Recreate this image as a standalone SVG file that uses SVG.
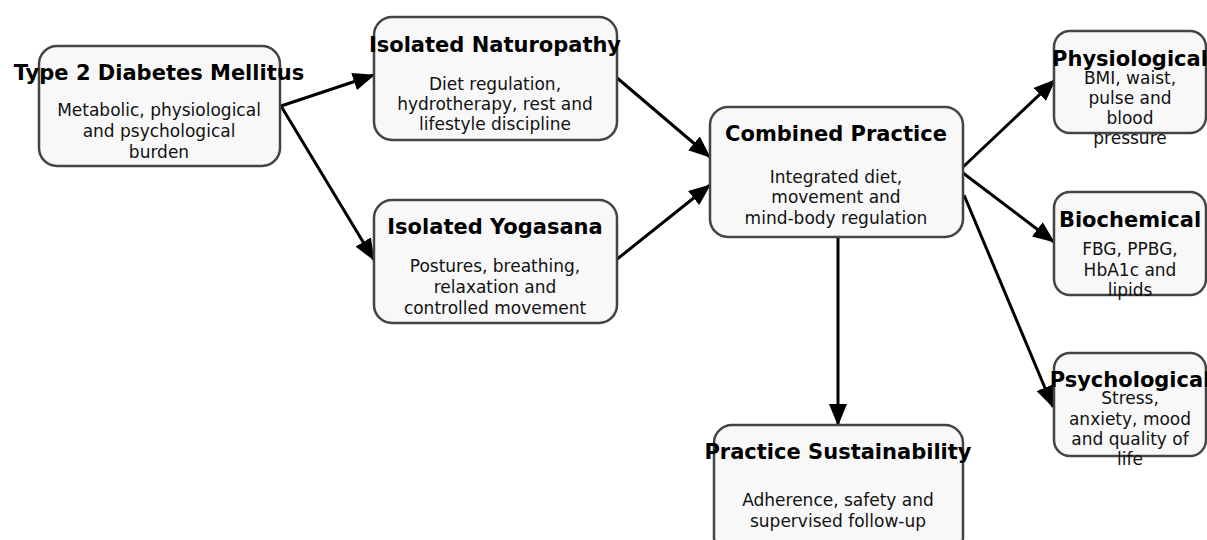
<svg xmlns="http://www.w3.org/2000/svg" width="1207" height="540" viewBox="0 0 1207 540">
<defs>
<marker id="ah" markerUnits="userSpaceOnUse" markerWidth="22" markerHeight="18" viewBox="0 0 22 18" refX="21" refY="9" orient="auto">
<path d="M0,0 L22,9 L0,18 Z" fill="#000"/>
</marker>
<style>
.box{fill:#f8f8f8;stroke:#444;stroke-width:2.5}
.t{font-family:"DejaVu Sans",sans-serif;font-weight:bold;font-size:21px;fill:#000;text-anchor:middle}
.b{font-family:"DejaVu Sans",sans-serif;font-size:17px;fill:#111;text-anchor:middle}
.c{stroke:#000;stroke-width:3;fill:none;marker-end:url(#ah)}
</style>
</defs>
<rect width="1207" height="540" fill="#fff"/>
<g id="connectors">
<line class="c" x1="281" y1="106" x2="374" y2="75"/>
<line class="c" x1="281" y1="106" x2="374" y2="260"/>
<line class="c" x1="616" y1="77" x2="710" y2="157"/>
<line class="c" x1="616" y1="260" x2="710" y2="185"/>
<line class="c" x1="963" y1="167" x2="1055" y2="80"/>
<line class="c" x1="963" y1="173" x2="1054" y2="242"/>
<line class="c" x1="964" y1="195" x2="1053" y2="407"/>
<line class="c" x1="838" y1="237" x2="838" y2="425"/>
</g>
<g id="t2dm">
<rect class="box" x="39" y="46" width="241" height="120" rx="18"/>
<text class="t" x="159" y="80">Type 2 Diabetes Mellitus</text>
<text class="b" x="159" y="116">Metabolic, physiological</text>
<text class="b" x="159" y="137">and psychological</text>
<text class="b" x="159" y="158">burden</text>
</g>
<g id="naturopathy">
<rect class="box" x="374" y="17" width="243" height="123" rx="18"/>
<text class="t" x="495" y="52">Isolated Naturopathy</text>
<text class="b" x="495" y="90">Diet regulation,</text>
<text class="b" x="495" y="110">hydrotherapy, rest and</text>
<text class="b" x="495" y="130">lifestyle discipline</text>
</g>
<g id="yogasana">
<rect class="box" x="374" y="200" width="243" height="123" rx="18"/>
<text class="t" x="495" y="234">Isolated Yogasana</text>
<text class="b" x="495" y="272">Postures, breathing,</text>
<text class="b" x="495" y="293">relaxation and</text>
<text class="b" x="495" y="314">controlled movement</text>
</g>
<g id="combined">
<rect class="box" x="710" y="107" width="253" height="130" rx="18"/>
<text class="t" x="836" y="141">Combined Practice</text>
<text class="b" x="836" y="183">Integrated diet,</text>
<text class="b" x="836" y="203">movement and</text>
<text class="b" x="836" y="224">mind-body regulation</text>
</g>
<g id="physiological">
<rect class="box" x="1054" y="31" width="152" height="102" rx="16"/>
<text class="t" x="1130" y="66">Physiological</text>
<text class="b" x="1130" y="84">BMI, waist,</text>
<text class="b" x="1130" y="104">pulse and</text>
<text class="b" x="1130" y="124">blood</text>
<text class="b" x="1130" y="144">pressure</text>
</g>
<g id="biochemical">
<rect class="box" x="1054" y="192" width="152" height="103" rx="16"/>
<text class="t" x="1130" y="227">Biochemical</text>
<text class="b" x="1130" y="255">FBG, PPBG,</text>
<text class="b" x="1130" y="276">HbA1c and</text>
<text class="b" x="1130" y="296">lipids</text>
</g>
<g id="psychological">
<rect class="box" x="1054" y="353" width="152" height="103" rx="16"/>
<text class="t" x="1130" y="387">Psychological</text>
<text class="b" x="1130" y="404">Stress,</text>
<text class="b" x="1130" y="425">anxiety, mood</text>
<text class="b" x="1130" y="445">and quality of</text>
<text class="b" x="1130" y="465">life</text>
</g>
<g id="sustainability">
<rect class="box" x="714" y="425" width="249" height="130" rx="18"/>
<text class="t" x="838" y="459">Practice Sustainability</text>
<text class="b" x="838" y="506">Adherence, safety and</text>
<text class="b" x="838" y="527">supervised follow-up</text>
</g>
</svg>
